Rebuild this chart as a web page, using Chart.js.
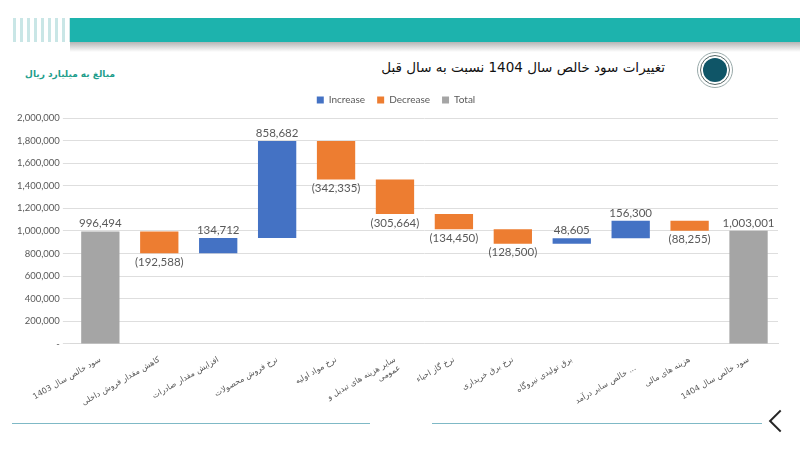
<!DOCTYPE html>
<html lang="fa">
<head>
    <meta charset="UTF-8">
    <title>تغییرات سود خالص</title>
    <script src="https://cdn.jsdelivr.net/npm/chart.js"></script>
    <style>
        body { margin: 0; background: #fff; }
        .page { position: relative; width: 800px; height: 462px; overflow: hidden; background: #fff; }
        .stripes { position: absolute; left: 13px; top: 18px; width: 57px; height: 24px;
            background: repeating-linear-gradient(90deg, #c9e6e6 0 3px, #fff 3px 7px); }
        .band { position: absolute; left: 70px; top: 18px; width: 730px; height: 24px; background: #1db3ad; }
        .shadow { position: absolute; left: 70px; top: 42px; width: 730px; height: 10px;
            background: linear-gradient(180deg, #b5b5b5, rgba(255,255,255,0)); }
        .title { position: absolute; right: 135px; top: 59px; direction: rtl;
            font-family: "DejaVu Sans", sans-serif; font-size: 13.5px; color: #111; }
        .unit { position: absolute; right: 685px; top: 69px; direction: rtl;
            font-family: "DejaVu Sans", sans-serif; font-size: 9px; font-weight: bold; color: #1e9e8c; }
        .icon { position: absolute; left: 697px; top: 52px; width: 36px; height: 36px; border-radius: 50%;
            border: 1px solid #9aa; box-sizing: border-box; }
        .icon::before { content: ''; position: absolute; left: 2px; top: 2px; width: 30px; height: 30px;
            border-radius: 50%; border: 1px solid #566; box-sizing: border-box; }
        .icon::after { content: ''; position: absolute; left: 5px; top: 5px; width: 24px; height: 24px;
            border-radius: 50%; background: #0f5567; }
        .chart-box { position: absolute; left: 0; top: 83px; width: 800px; height: 336px; }
        .line1 { position: absolute; left: 12px; top: 423px; width: 358px; height: 1px; background: #7fb9c6; }
        .line2 { position: absolute; left: 432px; top: 423px; width: 330px; height: 1px; background: #7fb9c6; }
        .chev { position: absolute; left: 772px; top: 413px; width: 14px; height: 14px;
            border-left: 2px solid #222; border-bottom: 2px solid #222; transform: rotate(45deg); }
    </style>
</head>
<body>
<div class="page">
    <div class="stripes"></div>
    <div class="band"></div>
    <div class="shadow"></div>
    <div class="title">تغییرات سود خالص سال 1404 نسبت به سال قبل</div>
    <div class="icon"></div>
    <div class="unit">مبالغ به میلیارد ریال</div>
    <div class="chart-box"><canvas id="waterfall"></canvas></div>
    <div class="line1"></div>
    <div class="line2"></div>
    <div class="chev"></div>
</div>

<script>
    // chart data
    const categories = [
        'سود خالص سال 1403',
        'کاهش مقدار فروش داخلی',
        'افزایش مقدار صادرات',
        'نرخ فروش محصولات',
        'نرخ مواد اولیه',
        ['سایر هزینه های تبدیل و', 'عمومی'],
        'نرخ گاز احیاء',
        'نرخ برق خریداری',
        'برق تولیدی نیروگاه',
        ['', 'خالص سایر درآمد ...'],
        'هزینه های مالی',
        'سود خالص سال 1404'
    ];
    const amounts = [996494, -192588, 134712, 858682, -342335, -305664, -134450, -128500, 48605, 156300, -88255, 1003001];
    const isTotal = [true, false, false, false, false, false, false, false, false, false, false, true];
    const yTicks = [0, 200000, 400000, 600000, 800000, 1000000, 1200000, 1400000, 1600000, 1800000, 2000000];

    // floating ranges from running total
    const increase = [], decrease = [], total = [];
    let running = 0;
    amounts.forEach((v, i) => {
        increase.push(null); decrease.push(null); total.push(null);
        if (isTotal[i]) {
            total[i] = [0, v];
            running = v;
        } else if (v >= 0) {
            increase[i] = [running, running + v];
            running += v;
        } else {
            decrease[i] = [running, running + v];
            running += v;
        }
    });

    const fmt = n => Math.abs(n).toLocaleString('en-US');

    const barLabels = {
        id: 'barLabels',
        afterDatasetsDraw(chart) {
            const ctx = chart.ctx;
            ctx.save();
            ctx.font = '11.5px Lato';
            ctx.fillStyle = '#595959';
            ctx.textAlign = 'center';
            chart.data.datasets.forEach((ds, di) => {
                chart.getDatasetMeta(di).data.forEach((el, i) => {
                    if (!ds.data[i]) return;
                    const v = amounts[i];
                    const top = Math.min(el.y, el.base);
                    const bottom = Math.max(el.y, el.base);
                    if (v < 0) {
                        ctx.textBaseline = 'top';
                        ctx.fillText('(' + fmt(v) + ')', el.x, bottom + 3);
                    } else {
                        ctx.textBaseline = 'bottom';
                        ctx.fillText(fmt(v), el.x, top - 2);
                    }
                });
            });
            ctx.restore();
        }
    };

    // a little extra room under the legend
    const legendGap = {
        id: 'legendGap',
        afterInit(chart) {
            const lg = chart.legend;
            if (!lg) return;
            const fit = lg.fit;
            lg.fit = function () { fit.call(this); this.height += 3; };
        }
    };

    new Chart(document.getElementById('waterfall'), {
        type: 'bar',
        data: {
            labels: categories,
            datasets: [
                { label: 'Increase', data: increase, backgroundColor: '#4472c4' },
                { label: 'Decrease', data: decrease, backgroundColor: '#ed7d31' },
                { label: 'Total', data: total, backgroundColor: '#a5a5a5' }
            ]
        },
        options: {
            responsive: true,
            maintainAspectRatio: false,
            animation: false,
            datasets: { bar: { grouped: false, categoryPercentage: 1, barPercentage: 0.65 } },
            layout: { padding: { left: 14, right: 22, top: 0, bottom: 0 } },
            plugins: {
                tooltip: { enabled: false },
                legend: {
                    position: 'top',
                    labels: { boxWidth: 7, boxHeight: 7, color: '#595959', font: { family: 'Lato', size: 10 }, padding: 12 }
                }
            },
            scales: {
                x: {
                    grid: { display: false },
                    border: { color: '#d9d9d9' },
                    ticks: {
                        autoSkip: false, minRotation: 30, maxRotation: 30,
                        color: '#595959', font: { family: 'DejaVu Sans', size: 8 }
                    }
                },
                y: {
                    min: 0, max: 2000000,
                    afterBuildTicks: axis => { axis.ticks = yTicks.map(v => ({ value: v })); },
                    grid: { color: '#dedede' },
                    border: { display: false },
                    ticks: {
                        color: '#595959', font: { family: 'Lato', size: 9.5 },
                        callback: v => v === 0 ? '-' : v.toLocaleString('en-US')
                    }
                }
            }
        },
        plugins: [barLabels, legendGap]
    });
</script>
</body>
</html>
